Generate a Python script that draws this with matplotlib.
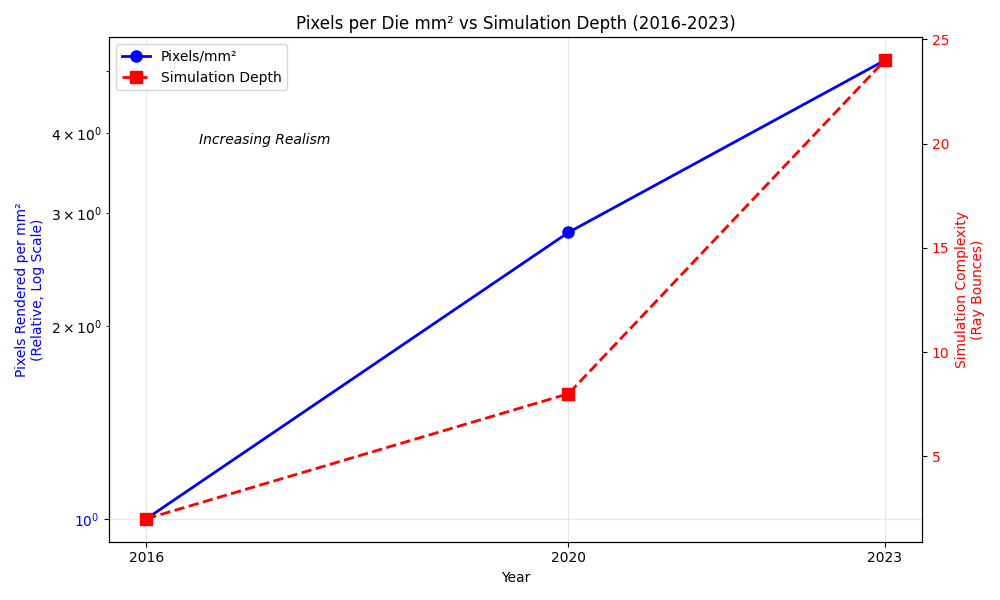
import matplotlib
matplotlib.use('Agg')
import matplotlib.pyplot as plt

years = [2016, 2020, 2023]
pixels_rel = [1.0, 2.8, 5.2]
ray_bounces = [2, 8, 24]

fig, ax1 = plt.subplots(figsize=(10, 6), dpi=100)

l1, = ax1.plot(years, pixels_rel, 'o-', color='blue', linewidth=2, markersize=8,
               label='Pixels/mm²')
ax1.set_yscale('log')
ax1.set_xlabel('Year')
ax1.set_ylabel('Pixels Rendered per mm²\n(Relative, Log Scale)', color='blue')
ax1.tick_params(axis='y', labelcolor='blue')
ax1.set_xticks(years)
ax1.grid(True, alpha=0.3)

ax2 = ax1.twinx()
l2, = ax2.plot(years, ray_bounces, 's--', color='red', linewidth=2, markersize=8,
               label='Simulation Depth')
ax2.set_ylabel('Simulation Complexity\n(Ray Bounces)', color='red')
ax2.tick_params(axis='y', labelcolor='red')

ax1.text(2016.5, 3.85, 'Increasing Realism', fontsize=10, style='italic')

ax1.legend([l1, l2], [l1.get_label(), l2.get_label()], loc='upper left')
ax1.set_title('Pixels per Die mm² vs Simulation Depth (2016-2023)')

fig.tight_layout()
fig.savefig('out.png')
